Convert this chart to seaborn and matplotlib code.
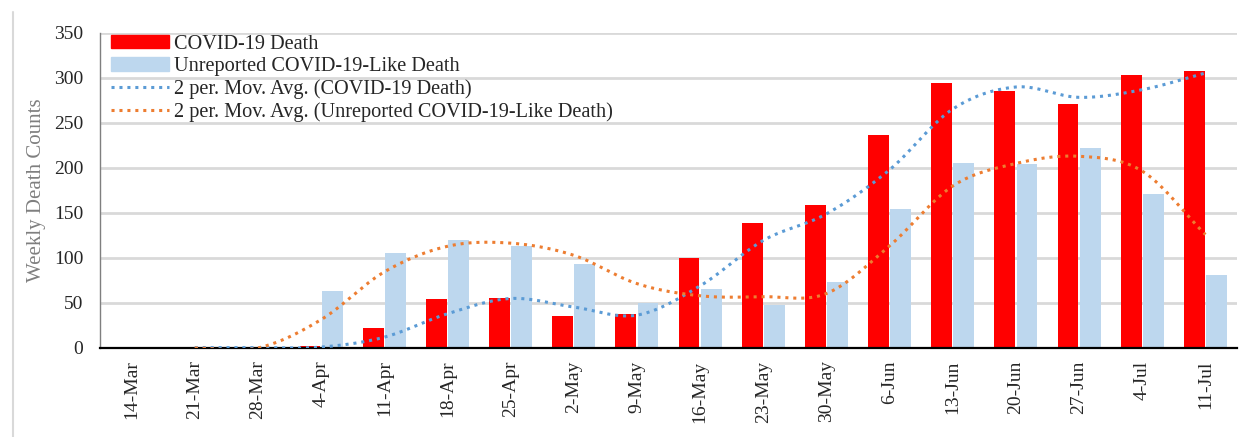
import matplotlib
matplotlib.use("Agg")
import matplotlib.pyplot as plt
import matplotlib.patches as mpatches
from matplotlib.lines import Line2D
import numpy as np
import pandas as pd
import seaborn as sns

weeks = ['14-Mar', '21-Mar', '28-Mar', '4-Apr', '11-Apr', '18-Apr', '25-Apr', '2-May', '9-May',
         '16-May', '23-May', '30-May', '6-Jun', '13-Jun', '20-Jun', '27-Jun', '4-Jul', '11-Jul']
covid_death = [0, 1, 0, 2, 22, 54, 56, 35, 38, 100, 139, 159, 237, 294, 286, 271, 303, 308]
unreported_death = [0, 0, 0, 63, 106, 120, 113, 93, 50, 66, 48, 73, 154, 206, 204, 222, 171, 81]

lab_covid = 'COVID-19 Death'
lab_unrep = 'Unreported COVID-19-Like Death'

df = pd.DataFrame({'Week': weeks * 2,
                   'Deaths': covid_death + unreported_death,
                   'Type': [lab_covid] * len(weeks) + [lab_unrep] * len(weeks)})

# 2 period moving average, like the Excel trendline
ma_covid = pd.Series(covid_death).rolling(2).mean()
ma_unrep = pd.Series(unreported_death).rolling(2).mean()


def smooth(xs, ys, n=20):
    # catmull-rom spline, close to Excel "smoothed line"
    xs = np.asarray(xs, float)
    ys = np.asarray(ys, float)
    px = np.concatenate([[2 * xs[0] - xs[1]], xs, [2 * xs[-1] - xs[-2]]])
    py = np.concatenate([[2 * ys[0] - ys[1]], ys, [2 * ys[-1] - ys[-2]]])
    out_x, out_y = [], []
    t = np.linspace(0, 1, n, endpoint=False)
    for i in range(1, len(px) - 2):
        for arr, out in ((px, out_x), (py, out_y)):
            p0, p1, p2, p3 = arr[i - 1], arr[i], arr[i + 1], arr[i + 2]
            b1 = p1 + (p2 - p0) / 6
            b2 = p2 - (p3 - p1) / 6
            out.extend((1 - t) ** 3 * p1 + 3 * (1 - t) ** 2 * t * b1 + 3 * (1 - t) * t ** 2 * b2 + t ** 3 * p2)
    out_x.append(xs[-1])
    out_y.append(ys[-1])
    return out_x, out_y


sns.set_style("white")
plt.rcParams['font.family'] = ['Liberation Serif', 'DejaVu Serif']

fig = plt.figure(figsize=(12.58, 4.37), dpi=100)
ax = fig.add_axes([0.0795, 0.2037, 0.9038, 0.7208])

red = '#FF0000'
lblue = '#BDD7EE'
sns.barplot(data=df, x='Week', y='Deaths', hue='Type', palette=[red, lblue], saturation=1,
            width=0.70, gap=0.06, ax=ax, legend=False, zorder=2, linewidth=0)

dots = (0, (1, 1.6))
idx = np.arange(len(weeks))
mx, my = smooth(idx[1:], ma_covid[1:])
ax.plot(mx, my, color='#5B9BD5', linestyle=dots, linewidth=2.2, zorder=3)
ox, oy = smooth(idx[1:], ma_unrep[1:])
ax.plot(ox, oy, color='#ED7D31', linestyle=dots, linewidth=2.2, zorder=3)

ax.set_xlim(-0.5, len(weeks) - 0.5)
ax.set_ylim(0, 350)
ax.set_yticks(range(0, 351, 50))
ax.yaxis.grid(True, color='#D9D9D9', linewidth=2, zorder=0)
ax.xaxis.grid(False)
ax.set_axisbelow(True)

for s in ['top', 'right']:
    ax.spines[s].set_visible(False)
ax.spines['bottom'].set_color('black')
ax.spines['bottom'].set_linewidth(1.6)
ax.spines['left'].set_color('#7F7F7F')
ax.spines['left'].set_linewidth(1.0)

ax.tick_params(axis='both', length=0, labelsize=14, labelcolor='#262626')
ax.tick_params(axis='y', pad=12)
ax.tick_params(axis='x', pad=9)
plt.setp(ax.get_xticklabels(), rotation=90)
ax.set_xlabel('')
ax.set_ylabel('Weekly Death Counts', fontsize=15, color='#7F7F7F', labelpad=6)

handles = [mpatches.Patch(color=red),
           mpatches.Patch(color=lblue),
           Line2D([], [], color='#5B9BD5', linestyle=dots, linewidth=2.2),
           Line2D([], [], color='#ED7D31', linestyle=dots, linewidth=2.2)]
labels = [lab_covid, lab_unrep,
          '2 per. Mov. Avg. (COVID-19 Death)',
          '2 per. Mov. Avg. (Unreported COVID-19-Like Death)']
ax.legend(handles, labels, loc='upper left', bbox_to_anchor=(-0.003, 1.04), frameon=False,
          fontsize=14.6, handlelength=2.85, handleheight=0.65, handletextpad=0.25,
          labelspacing=0.17, borderaxespad=0.3)

# grey frame line on the left edge
fig.add_artist(Line2D([12.5 / 1258, 12.5 / 1258], [0, 1 - 12 / 437], color='#D9D9D9',
                      linewidth=1.5, transform=fig.transFigure))

plt.savefig('out.png', dpi=100)
